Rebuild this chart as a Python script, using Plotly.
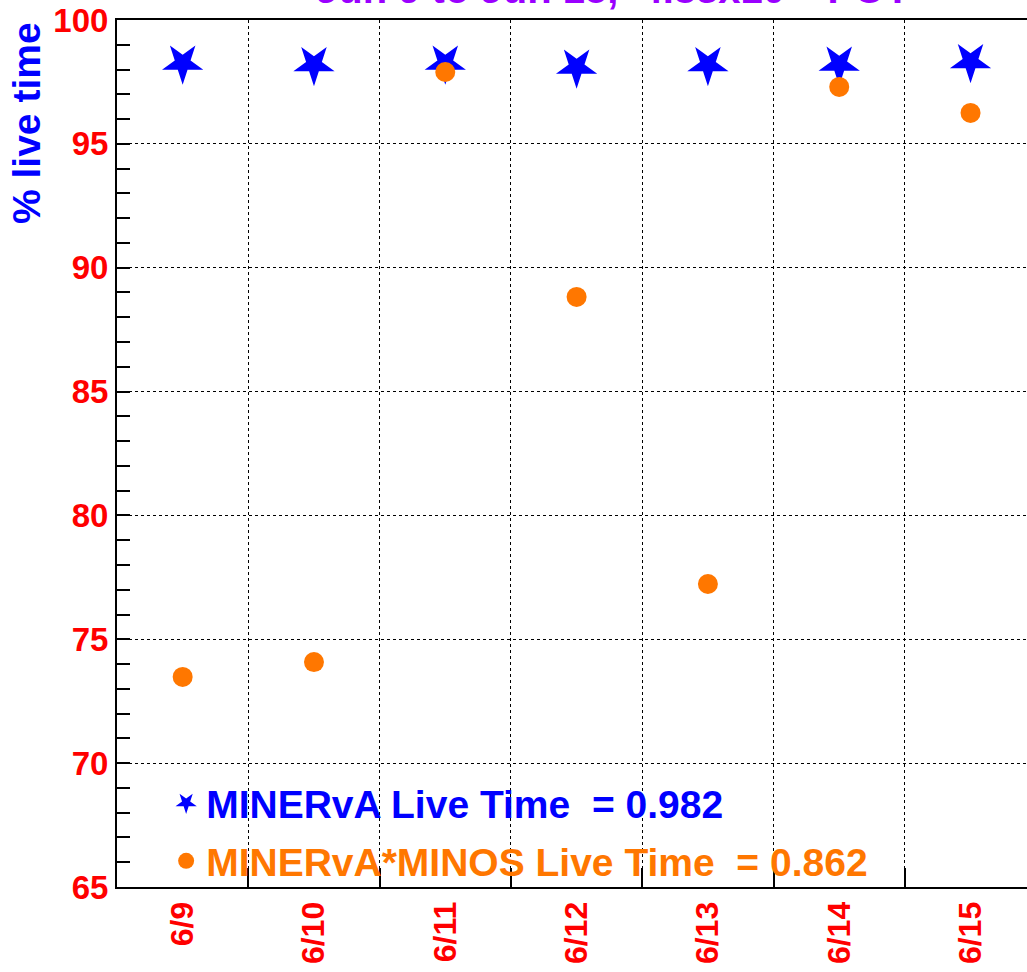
import plotly.graph_objects as go

days = ["6/9", "6/10", "6/11", "6/12", "6/13", "6/14", "6/15"]
minerva_live = [98.26, 98.20, 98.26, 98.10, 98.20, 98.22, 98.32]
minerva_minos_live = [73.48, 74.08, 97.90, 88.82, 77.23, 97.30, 96.25]
y_ticks = [65, 70, 75, 80, 85, 90, 95, 100]

FONT = "Liberation Sans"
BLUE = "#0000ff"
ORANGE = "#ff7700"
RED = "#ff0000"
PURPLE = "#9a00ff"

fig = go.Figure()
fig.add_trace(go.Scatter(
    x=days, y=minerva_live, mode="markers",
    name="<span style='color:#0000ff'>MINERvA Live Time  = 0.982</span>",
    marker=dict(symbol="star", angle=180, size=31, color=BLUE, line=dict(width=0)),
    cliponaxis=False, legend="legend",
))
fig.add_trace(go.Scatter(
    x=days, y=minerva_minos_live, mode="markers",
    name="<span style='color:#ff7700'>MINERvA*MINOS Live Time  = 0.862</span>",
    marker=dict(symbol="circle", size=20, color=ORANGE, line=dict(width=0)),
    cliponaxis=False, legend="legend2",
))

legend_common = dict(
    xanchor="left", yanchor="middle",
    bgcolor="rgba(0,0,0,0)",
    font=dict(family=FONT, size=39, weight="bold", color=BLUE),
    itemsizing="trace",
)

fig.update_layout(
    width=1027, height=972,
    margin=dict(l=117, r=0, t=20, b=85),
    paper_bgcolor="white", plot_bgcolor="white",
    showlegend=True,
    legend=dict(x=0.054, y=0.097, **legend_common),
    legend2=dict(x=0.054, y=0.030, **legend_common),
    xaxis=dict(
        type="category", categoryorder="array", categoryarray=days,
        range=[-0.5, 6.43],
        automargin=False,
        tickson="boundaries",
        ticks="inside", ticklen=19, tickwidth=1.5, tickcolor="black",
        showgrid=True, gridcolor="black", griddash="dot", gridwidth=1,
        showline=True, linecolor="black", linewidth=2, mirror=True,
        tickangle=-90,
        tickfont=dict(family=FONT, size=32, weight="bold", color=RED),
        zeroline=False,
    ),
    yaxis=dict(
        range=[65, 100],
        automargin=False,
        tickvals=y_ticks,
        ticks="inside", ticklen=13, tickwidth=1.5, tickcolor="black",
        minor=dict(dtick=1, ticks="inside", ticklen=13, tickwidth=1.5, tickcolor="black", showgrid=False),
        showgrid=True, gridcolor="black", griddash="dot", gridwidth=1,
        showline=True, linecolor="black", linewidth=2, mirror=False,
        tickfont=dict(family=FONT, size=33, weight="bold", color=RED),
        zeroline=False,
    ),
    annotations=[
        dict(
            text="% live time", textangle=-90,
            xref="paper", yref="paper", x=0, y=1,
            xanchor="center", yanchor="top", xshift=-91, yshift=0,
            showarrow=False,
            font=dict(family=FONT, size=39, weight="bold", color=BLUE),
        ),
        dict(
            text="Jun 9 to Jun 15,  4.83x10<sup>19</sup> POT",
            xref="paper", yref="paper", x=0.545, y=1,
            xanchor="center", yanchor="bottom", yshift=7,
            showarrow=False,
            font=dict(family=FONT, size=40, weight="bold", color=PURPLE),
        ),
    ],
)

fig.write_html("out.html", config={"displayModeBar": False},
               post_script="document.body.style.margin='0';")
